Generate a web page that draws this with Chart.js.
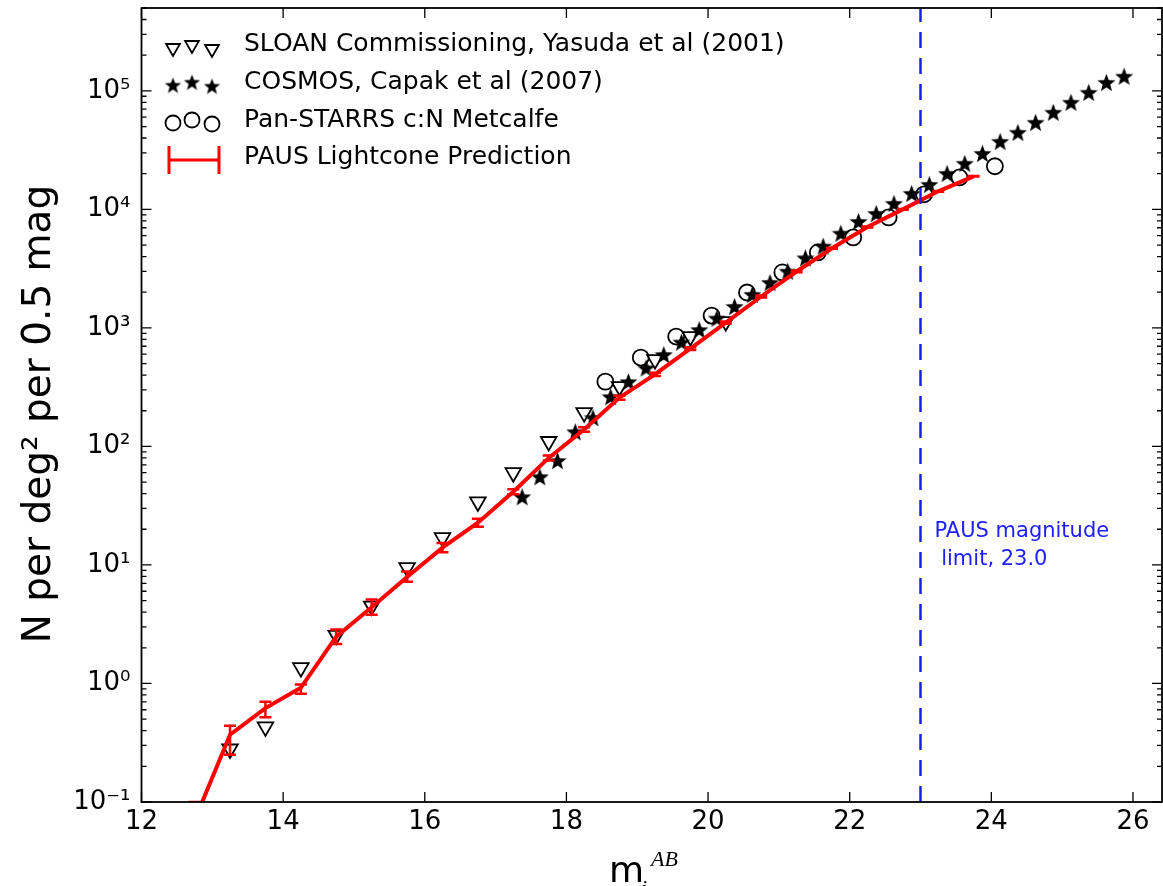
<!DOCTYPE html>
<html>
<head>
<meta charset="utf-8">
<script src="https://cdn.jsdelivr.net/npm/chart.js@4.4.0/dist/chart.umd.min.js"></script>
<style>
    html, body { margin: 0; padding: 0; background: #fff; overflow: hidden; }
    .chart-box { width: 1163px; height: 886px; position: relative; }
    canvas { display: block; }
</style>
</head>
<body>
<div class="chart-box"><canvas id="chart1"></canvas></div>
<script>
// Data
const sloanMag = [13.25, 13.75, 14.25, 14.75, 15.25, 15.75, 16.25, 16.75, 17.25, 17.75, 18.25, 18.75, 19.25, 19.75, 20.25];
const sloanCount = [0.28, 0.43, 1.36, 2.55, 4.5, 9.5, 17, 34, 60, 110, 193, 320, 540, 845, 1130];

const cosmosMag = [17.375, 17.625, 17.875, 18.125, 18.375, 18.625, 18.875, 19.125, 19.375, 19.625,
    19.875, 20.125, 20.375, 20.625, 20.875, 21.125, 21.375, 21.625, 21.875, 22.125,
    22.375, 22.625, 22.875, 23.125, 23.375, 23.625, 23.875, 24.125, 24.375, 24.625,
    24.875, 25.125, 25.375, 25.625, 25.875];
const cosmosCount = [37.7, 55.6, 76, 133, 175, 263, 352, 460, 596, 760,
    968, 1210, 1518, 1920, 2420, 3010, 3900, 4900, 6300, 7920,
    9250, 11240, 13650, 16260, 20140, 24470, 29700, 37500, 44700, 54300,
    66000, 80200, 97300, 118000, 133000];

const panMag = [18.55, 19.05, 19.55, 20.05, 20.55, 21.05, 21.55, 22.05, 22.55, 23.05, 23.55, 24.05];
const panCount = [352, 562, 845, 1270, 1990, 2940, 4330, 5800, 8560, 13400, 18600, 23100];

const pausMag = [12.75, 13.25, 13.75, 14.25, 14.75, 15.25, 15.75, 16.25, 16.75, 17.25, 17.75, 18.25,
    18.75, 19.25, 19.75, 20.25, 20.75, 21.25, 21.75, 22.25, 22.75, 23.25, 23.75];
const pausCount = [0.07, 0.37, 0.62, 0.92, 2.48, 4.4, 7.9, 14, 22.7, 41.5, 80, 139,
    258, 405, 670, 1110, 1840, 2990, 4700, 7100, 10000, 14200, 19000];
const pausLow = [0.05, 0.25, 0.52, 0.82, 2.15, 3.8, 7.2, 12.8, 21, 39.5, 76, 133,
    248, 392, 652, 1085, 1805, 2950, 4650, 7030, 9920, 14100, 18900];
const pausHigh = [0.10, 0.44, 0.70, 0.98, 2.85, 5.1, 8.8, 15.3, 24.5, 43.5, 84, 145,
    268, 418, 688, 1135, 1875, 3030, 4750, 7170, 10080, 14300, 19100];

const xTicks = [12, 14, 16, 18, 20, 22, 24, 26];
const yTicks = [0.1, 1, 10, 100, 1000, 10000, 100000];
const magLimit = 23.0;
const xMin = 12, xMax = 26.41, yMin = 0.1, yMax = 5e5;

const legendLabels = [
    "SLOAN Commissioning, Yasuda et al (2001)",
    "COSMOS, Capak et al (2007)",
    "Pan-STARRS c:N Metcalfe",
    "PAUS Lightcone Prediction"
];
const limitLabel = ["PAUS magnitude", " limit, 23.0"];

const toPoints = (xs, ys) => xs.map((v, i) => ({ x: v, y: ys[i] }));

// Filled star marker
const makeStar = (size) => {
    const c = document.createElement("canvas");
    c.width = size;
    c.height = size;
    const g = c.getContext("2d");
    const r = size / 2, ri = r * 0.42;
    g.beginPath();
    for (let i = 0; i < 10; i++) {
        const a = -Math.PI / 2 + i * Math.PI / 5;
        const rr = i % 2 ? ri : r;
        g.lineTo(r + rr * Math.cos(a), r + 1 + rr * Math.sin(a));
    }
    g.closePath();
    g.fillStyle = "#000";
    g.fill();
    return c;
};
const starImg = makeStar(19);
const starImgSmall = makeStar(17);

const supMap = { "-": "⁻", "0": "⁰", "1": "¹", "2": "²", "3": "³", "4": "⁴", "5": "⁵" };
const powLabel = (v) => "10" + String(Math.round(Math.log10(v))).split("").map(ch => supMap[ch]).join("");

// Error bars for PAUS
const errorBarPlugin = {
    id: "errorBars",
    afterDatasetsDraw(chart) {
        const { ctx, chartArea, scales: { x, y } } = chart;
        ctx.save();
        ctx.beginPath();
        ctx.rect(chartArea.left, chartArea.top, chartArea.width, chartArea.height);
        ctx.clip();
        ctx.strokeStyle = "#ff0000";
        ctx.lineWidth = 2.5;
        pausMag.forEach((m, i) => {
            const px = x.getPixelForValue(m);
            const yl = y.getPixelForValue(pausLow[i]);
            const yh = y.getPixelForValue(pausHigh[i]);
            ctx.beginPath();
            ctx.moveTo(px, yl); ctx.lineTo(px, yh);
            ctx.moveTo(px - 6, yl); ctx.lineTo(px + 6, yl);
            ctx.moveTo(px - 6, yh); ctx.lineTo(px + 6, yh);
            ctx.stroke();
        });
        ctx.restore();
    }
};

// Frame, inward ticks, legend, titles
const framePlugin = {
    id: "frame",
    afterDraw(chart) {
        const { ctx, chartArea: a, scales: { x, y } } = chart;
        ctx.save();
        ctx.strokeStyle = "#000";
        ctx.lineWidth = 1.8;
        ctx.strokeRect(a.left, a.top, a.right - a.left, a.bottom - a.top);

        ctx.lineWidth = 1.3;
        ctx.beginPath();
        xTicks.forEach(v => {
            const px = x.getPixelForValue(v);
            ctx.moveTo(px, a.bottom); ctx.lineTo(px, a.bottom - 10);
            ctx.moveTo(px, a.top); ctx.lineTo(px, a.top + 10);
        });
        for (let n = -1; n <= 5; n++) {
            for (let k = 1; k <= 9; k++) {
                const v = k * Math.pow(10, n);
                if (v < yMin || v > yMax) continue;
                const py = y.getPixelForValue(v);
                const len = k === 1 ? 10 : 5;
                ctx.moveTo(a.left, py); ctx.lineTo(a.left + len, py);
                ctx.moveTo(a.right, py); ctx.lineTo(a.right - len, py);
            }
        }
        ctx.stroke();

        // Legend
        const rows = [44, 82, 120, 157];
        const offs = [[173, 3], [192, 0], [212, 4]];
        ctx.strokeStyle = "#000";
        offs.forEach(([lx, dy]) => {
            ctx.lineWidth = 1.8;
            ctx.fillStyle = "rgba(0,0,0,0)";
            Chart.helpers.drawPoint(ctx, { pointStyle: "triangle", rotation: 180, radius: 8, borderWidth: 1.8 }, lx, rows[0] + dy + 1);
            Chart.helpers.drawPoint(ctx, { pointStyle: "circle", rotation: 0, radius: 7.5, borderWidth: 1.8 }, lx, rows[2] + dy);
            ctx.fillStyle = "#000";
            Chart.helpers.drawPoint(ctx, { pointStyle: starImgSmall, rotation: 0, radius: 8, borderWidth: 0 }, lx, rows[1] + dy);
        });
        ctx.strokeStyle = "#ff0000";
        ctx.lineWidth = 3;
        ctx.beginPath();
        ctx.moveTo(169, rows[3] + 3); ctx.lineTo(219, rows[3] + 3);
        ctx.moveTo(169, rows[3] - 11); ctx.lineTo(169, rows[3] + 17);
        ctx.moveTo(219, rows[3] - 11); ctx.lineTo(219, rows[3] + 17);
        ctx.stroke();

        ctx.fillStyle = "#000";
        ctx.font = '25px "DejaVu Sans"';
        ctx.textAlign = "left";
        ctx.textBaseline = "middle";
        legendLabels.forEach((t, i) => ctx.fillText(t, 244, rows[i]));

        // Magnitude limit note
        ctx.fillStyle = "#2020ff";
        ctx.font = '21px "DejaVu Sans"';
        ctx.textBaseline = "alphabetic";
        ctx.fillText(limitLabel[0], x.getPixelForValue(magLimit) + 14, 537);
        ctx.fillText(limitLabel[1], x.getPixelForValue(magLimit) + 14, 565);

        // Axis titles
        ctx.fillStyle = "#000";
        ctx.save();
        ctx.translate(40, 414);
        ctx.rotate(-Math.PI / 2);
        ctx.textAlign = "center";
        ctx.textBaseline = "middle";
        ctx.font = '39px "DejaVu Sans"';
        ctx.fillText("N per deg² per 0.5 mag", 0, 0);
        ctx.restore();

        ctx.textBaseline = "alphabetic";
        ctx.font = '36px "DejaVu Sans"';
        ctx.fillText("m", 609, 882);
        ctx.font = 'italic 22px "Liberation Serif"';
        ctx.fillText("i", 641, 895);
        ctx.fillText("AB", 651, 866);
        ctx.restore();
    }
};

// Chart 1
const chart1 = document.querySelector("#chart1");
if (chart1) {
    Chart.defaults.font.family = '"DejaVu Sans"';
    Chart.defaults.color = "#000";
    new Chart(chart1, {
        type: "scatter",
        data: {
            datasets: [
                {
                    label: "limit",
                    data: [{ x: magLimit, y: yMin }, { x: magLimit, y: yMax }],
                    showLine: true,
                    borderColor: "#1a1aff",
                    borderWidth: 2.5,
                    borderDash: [16, 10],
                    pointRadius: 0
                },
                {
                    label: legendLabels[3],
                    data: toPoints(pausMag, pausCount),
                    showLine: true,
                    borderColor: "#ff0000",
                    borderWidth: 4,
                    pointRadius: 0
                },
                {
                    label: legendLabels[0],
                    data: toPoints(sloanMag, sloanCount),
                    pointStyle: "triangle",
                    rotation: 180,
                    radius: 9,
                    borderColor: "#000",
                    backgroundColor: "rgba(0,0,0,0)",
                    borderWidth: 1.8
                },
                {
                    label: legendLabels[1],
                    data: toPoints(cosmosMag, cosmosCount),
                    pointStyle: starImg,
                    radius: 9,
                    borderWidth: 0
                },
                {
                    label: legendLabels[2],
                    data: toPoints(panMag, panCount),
                    pointStyle: "circle",
                    radius: 8,
                    borderColor: "#000",
                    backgroundColor: "rgba(0,0,0,0)",
                    borderWidth: 1.8
                }
            ]
        },
        options: {
            responsive: true,
            maintainAspectRatio: false,
            animation: false,
            events: [],
            layout: { autoPadding: false, padding: { top: 8, right: 1, left: 0, bottom: 0 } },
            plugins: {
                legend: { display: false },
                tooltip: { enabled: false }
            },
            scales: {
                x: {
                    type: "linear",
                    min: xMin,
                    max: xMax,
                    afterBuildTicks: (scale) => { scale.ticks = xTicks.map(v => ({ value: v })); },
                    afterFit: (scale) => {
                        scale.height = 84;
                        scale.paddingLeft = 0;
                        scale.paddingRight = 0;
                    },
                    grid: { display: false, drawTicks: false },
                    border: { display: false },
                    ticks: { padding: 5, font: { size: 26 }, maxRotation: 0, autoSkip: false }
                },
                y: {
                    type: "logarithmic",
                    min: yMin,
                    max: yMax,
                    afterBuildTicks: (scale) => { scale.ticks = yTicks.map(v => ({ value: v })); },
                    afterFit: (scale) => {
                        scale.width = 141.5;
                        scale.paddingTop = 0;
                        scale.paddingBottom = 0;
                    },
                    grid: { display: false, drawTicks: false },
                    border: { display: false },
                    ticks: {
                        padding: 11,
                        font: { size: 26 },
                        autoSkip: false,
                        callback: (value) => powLabel(value)
                    }
                }
            }
        },
        plugins: [errorBarPlugin, framePlugin]
    });
}
// End Chart 1
</script>
</body>
</html>
